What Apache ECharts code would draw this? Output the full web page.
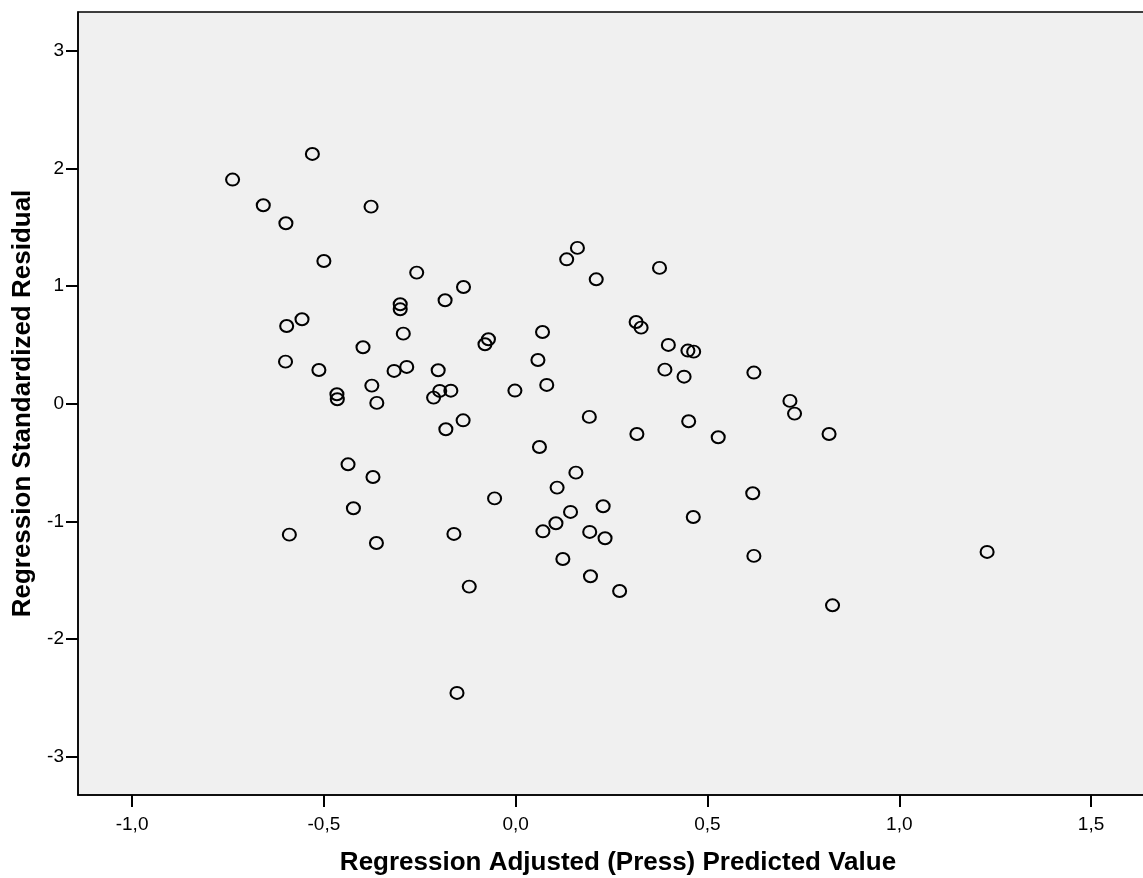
<!DOCTYPE html>
<html>
<head>
<meta charset="utf-8">
<script src="https://cdn.jsdelivr.net/npm/echarts@6/dist/echarts.min.js"></script>
<style>
  html, body { margin: 0; padding: 0; background: #ffffff; overflow: hidden; }
  #chart { width: 1143px; height: 878px; }
</style>
</head>
<body>
<div id="chart"></div>
<script>
// Regression Adjusted (Press) Predicted Value
const predicted = [
  -0.530, -0.738, -0.658, -0.599, -0.377, -0.500, -0.258, -0.136, -0.184, -0.301,
  -0.301, -0.557, -0.597, -0.293, -0.071, -0.080, -0.398, -0.600, -0.513, -0.317,
  -0.284, -0.202, -0.375, -0.466, -0.465, -0.362, -0.198, -0.169, -0.214, -0.137,
  -0.182, -0.437, -0.372, -0.055, -0.423, -0.590, -0.161, -0.363, -0.121, -0.153,
   0.161,  0.133,  0.210,  0.375,  0.070,  0.058,  0.081, -0.002,  0.314,  0.327,
   0.398,  0.449,  0.464,  0.389,  0.439,  0.621,  0.192,  0.316,  0.451,  0.528,
   0.062,  0.157,  0.108,  0.228,  0.143,  0.105,  0.071,  0.193,  0.233,  0.123,
   0.195,  0.271,  0.463,  0.618,  0.621,  0.715,  0.727,  0.817,  0.826,  1.229
];
// Regression Standardized Residual
const residual = [
   2.125,  1.907,  1.689,  1.536,  1.677,  1.215,  1.116,  0.994,  0.881,  0.847,
   0.804,  0.719,  0.662,  0.597,  0.549,  0.507,  0.481,  0.359,  0.288,  0.280,
   0.314,  0.286,  0.155,  0.082,  0.039,  0.008,  0.110,  0.112,  0.053, -0.140,
  -0.216, -0.514, -0.622, -0.804, -0.888, -1.112, -1.106, -1.183, -1.554, -2.458,
   1.326,  1.229,  1.059,  1.156,  0.611,  0.373,  0.161,  0.113,  0.696,  0.648,
   0.501,  0.453,  0.444,  0.291,  0.231,  0.266, -0.111, -0.256, -0.148, -0.284,
  -0.367, -0.585, -0.712, -0.871, -0.919, -1.015, -1.084, -1.089, -1.143, -1.319,
  -1.466, -1.591, -0.962, -0.760, -1.293,  0.025, -0.083, -0.256, -1.713, -1.259
];
const xTicks = [-1.0, -0.5, 0.0, 0.5, 1.0, 1.5];
const yTicks = [-3, -2, -1, 0, 1, 2, 3];
const xTitle = 'Regression Adjusted (Press) Predicted Value';
const yTitle = 'Regression Standardized Residual';

const points = predicted.map((x, i) => [x, residual[i]]);
const FONT = '"Liberation Sans", Arial, sans-serif';

const chart = echarts.init(document.getElementById('chart'), null, { renderer: 'canvas' });
chart.setOption({
  animation: false,
  backgroundColor: '#ffffff',
  grid: {
    left: 78, top: 12, width: 1080, height: 783,
    outerBoundsMode: 'none',
    show: true, backgroundColor: '#f0f0f0', borderColor: '#000', borderWidth: 1.5,
    containLabel: false
  },
  xAxis: {
    type: 'value',
    min: -1.141, max: 1.6745,
    name: xTitle,
    nameLocation: 'middle',
    nameGap: 55,
    nameTextStyle: { fontFamily: FONT, fontSize: 26, fontWeight: 'bold', color: '#000' },
    axisLine: { show: true, onZero: false, lineStyle: { color: '#000', width: 1.5 } },
    axisTick: { show: true, customValues: xTicks, length: 12, inside: false, lineStyle: { color: '#000', width: 2 } },
    axisLabel: {
      customValues: xTicks, margin: 20,
      fontFamily: FONT, fontSize: 19, color: '#000',
      formatter: v => Number(v).toFixed(1).replace('.', ',')
    },
    splitLine: { show: false }
  },
  yAxis: {
    type: 'value',
    min: -3.326, max: 3.332,
    name: yTitle,
    nameLocation: 'middle',
    nameGap: 42,
    nameTextStyle: { fontFamily: FONT, fontSize: 26, fontWeight: 'bold', color: '#000' },
    axisLine: { show: true, onZero: false, lineStyle: { color: '#000', width: 1.5 } },
    axisTick: { show: true, customValues: yTicks, length: 12, inside: false, lineStyle: { color: '#000', width: 2 } },
    axisLabel: {
      customValues: yTicks, margin: 14,
      fontFamily: FONT, fontSize: 19, color: '#000',
      formatter: v => String(Math.round(v))
    },
    splitLine: { show: false }
  },
  series: [{
    type: 'scatter',
    data: points,
    symbol: 'circle',
    symbolSize: [13, 12],
    itemStyle: { color: 'rgba(0,0,0,0)', borderColor: '#000', borderWidth: 2, opacity: 1 },
    emphasis: { disabled: true }
  }]
});
</script>
</body>
</html>
